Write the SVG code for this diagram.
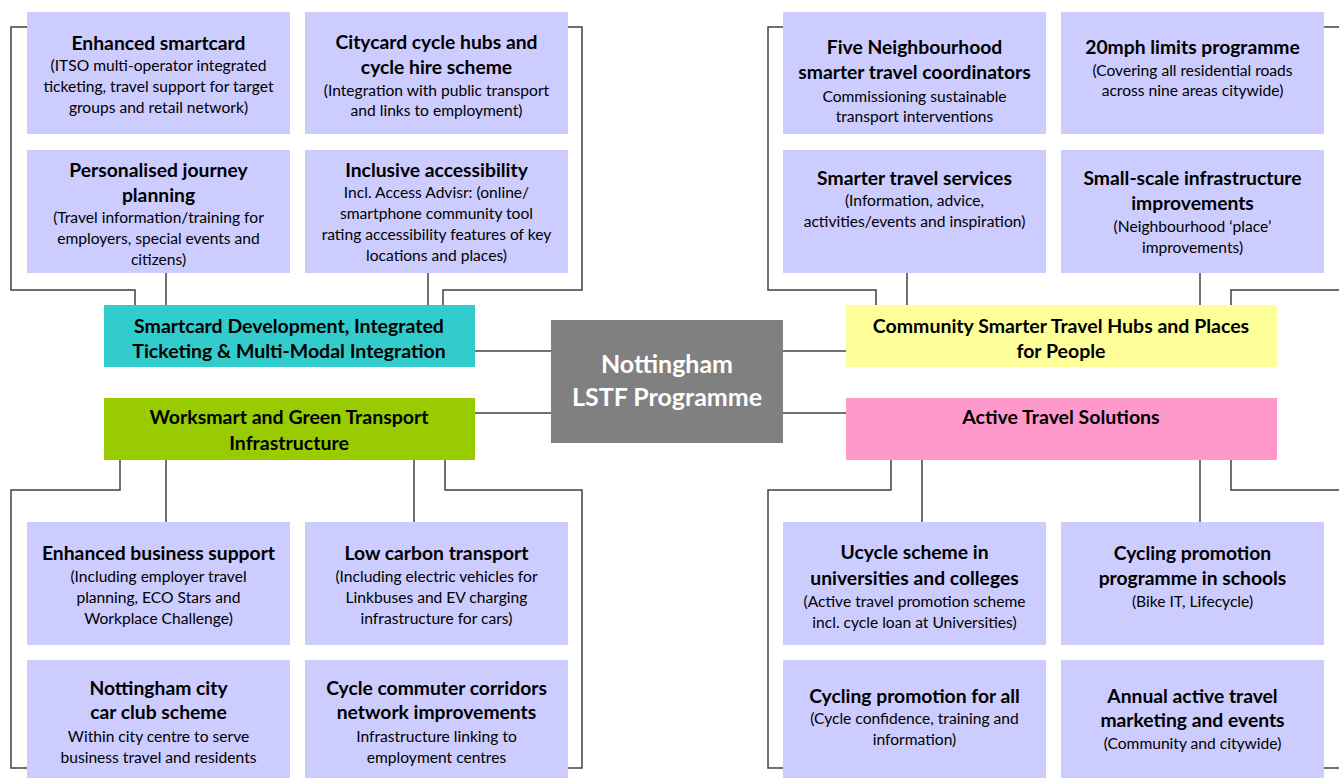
<svg xmlns="http://www.w3.org/2000/svg" width="1339" height="778" viewBox="0 0 1339 778">
<style>
.box{fill:#CCCCFF}
.t{font-family:Lato,"Open Sans","Liberation Sans",sans-serif;text-anchor:middle;fill:#000}
.h{font-size:19.3px;font-weight:bold}
.s{font-size:15.6px}
.cat{font-size:19.5px;font-weight:bold}
.c{fill:none;stroke:#404040;stroke-width:1.5}
</style>
<rect width="1339" height="778" fill="#fff"/>
<g id="connectors" class="c">
<path d="M27,27 H11 V290 H135 V305"/>
<path d="M166,273 V305"/>
<path d="M428,273 V305"/>
<path d="M568,27 H582 V290 H443 V305"/>
<path d="M475,351 H551"/>
<path d="M475,413 H551"/>
<path d="M120,460 V490 H11 V768 H27"/>
<path d="M166,460 V522"/>
<path d="M414,460 V522"/>
<path d="M445,460 V490 H582 V768 H568"/>
<path d="M783,27 H768 V290 H876 V305"/>
<path d="M907,273 V305"/>
<path d="M1200,273 V305"/>
<path d="M1339,290 H1231 V305"/>
<path d="M1324,27 H1339"/>
<path d="M783,351 H846"/>
<path d="M783,413 H846"/>
<path d="M891,460 V490 H768 V768 H783"/>
<path d="M922,460 V522"/>
<path d="M1200,460 V522"/>
<path d="M1339,490 H1231 V460"/>
<path d="M1324,768 H1339"/>
</g>
<g id="center">
<rect x="551" y="320" width="232" height="123" fill="#808080"/>
<text class="t" x="667" y="373" font-size="25" font-weight="bold" style="fill:#fff">Nottingham</text>
<text class="t" x="667" y="406" font-size="25" font-weight="bold" style="fill:#fff">LSTF Programme</text>
</g>
<g id="cat-smartcard">
<rect x="104" y="305" width="371" height="62" fill="#33CCCC"/>
<text class="t cat" x="289" y="333">Smartcard Development, Integrated</text>
<text class="t cat" x="289" y="358">Ticketing &amp; Multi-Modal Integration</text>
</g>
<g id="cat-worksmart">
<rect x="104" y="398" width="371" height="62" fill="#99CC00"/>
<text class="t cat" x="289" y="424">Worksmart and Green Transport</text>
<text class="t cat" x="289" y="450">Infrastructure</text>
</g>
<g id="cat-community">
<rect x="846" y="305" width="431" height="62" fill="#FFFF99"/>
<text class="t cat" x="1061" y="333">Community Smarter Travel Hubs and Places</text>
<text class="t cat" x="1061" y="358">for People</text>
</g>
<g id="cat-active">
<rect x="846" y="398" width="431" height="62" fill="#FF99CC"/>
<text class="t cat" x="1061" y="424">Active Travel Solutions</text>
</g>
<g id="n-enhanced-smartcard">
<rect class="box" x="27" y="12" width="263" height="122"/>
<text class="t h" x="158.5" y="50">Enhanced smartcard</text>
<text class="t s" x="158.5" y="71">(ITSO multi-operator integrated</text>
<text class="t s" x="158.5" y="92">ticketing, travel support for target</text>
<text class="t s" x="158.5" y="113">groups and retail network)</text>
</g>
<g id="n-citycard">
<rect class="box" x="305" y="12" width="263" height="122"/>
<text class="t h" x="436.5" y="49">Citycard cycle hubs and</text>
<text class="t h" x="436.5" y="74">cycle hire scheme</text>
<text class="t s" x="436.5" y="96">(Integration with public transport</text>
<text class="t s" x="436.5" y="116">and links to employment)</text>
</g>
<g id="n-personalised">
<rect class="box" x="27" y="150" width="263" height="123"/>
<text class="t h" x="158.5" y="177">Personalised journey</text>
<text class="t h" x="158.5" y="202">planning</text>
<text class="t s" x="158.5" y="223">(Travel information/training for</text>
<text class="t s" x="158.5" y="244">employers, special events and</text>
<text class="t s" x="158.5" y="265">citizens)</text>
</g>
<g id="n-inclusive">
<rect class="box" x="305" y="150" width="263" height="123"/>
<text class="t h" x="436.5" y="177">Inclusive accessibility</text>
<text class="t s" x="436.5" y="198">Incl. Access Advisr: (online/</text>
<text class="t s" x="436.5" y="219">smartphone community tool</text>
<text class="t s" x="436.5" y="240">rating accessibility features of key</text>
<text class="t s" x="436.5" y="261">locations and places)</text>
</g>
<g id="n-five-neighbourhood">
<rect class="box" x="783" y="12" width="263" height="122"/>
<text class="t h" x="914.5" y="54">Five Neighbourhood</text>
<text class="t h" x="914.5" y="79">smarter travel coordinators</text>
<text class="t s" x="914.5" y="102">Commissioning sustainable</text>
<text class="t s" x="914.5" y="122">transport interventions</text>
</g>
<g id="n-20mph">
<rect class="box" x="1061" y="12" width="263" height="122"/>
<text class="t h" x="1192.5" y="54">20mph limits programme</text>
<text class="t s" x="1192.5" y="76">(Covering all residential roads</text>
<text class="t s" x="1192.5" y="96">across nine areas citywide)</text>
</g>
<g id="n-smarter-services">
<rect class="box" x="783" y="150" width="263" height="123"/>
<text class="t h" x="914.5" y="185">Smarter travel services</text>
<text class="t s" x="914.5" y="206">(Information, advice,</text>
<text class="t s" x="914.5" y="227">activities/events and inspiration)</text>
</g>
<g id="n-small-scale">
<rect class="box" x="1061" y="150" width="263" height="123"/>
<text class="t h" x="1192.5" y="185">Small-scale infrastructure</text>
<text class="t h" x="1192.5" y="210">improvements</text>
<text class="t s" x="1192.5" y="232">(Neighbourhood ‘place’</text>
<text class="t s" x="1192.5" y="253">improvements)</text>
</g>
<g id="n-business">
<rect class="box" x="27" y="522" width="263" height="123"/>
<text class="t h" x="158.5" y="560">Enhanced business support</text>
<text class="t s" x="158.5" y="582">(Including employer travel</text>
<text class="t s" x="158.5" y="603">planning, ECO Stars and</text>
<text class="t s" x="158.5" y="624">Workplace Challenge)</text>
</g>
<g id="n-low-carbon">
<rect class="box" x="305" y="522" width="263" height="123"/>
<text class="t h" x="436.5" y="560">Low carbon transport</text>
<text class="t s" x="436.5" y="582">(Including electric vehicles for</text>
<text class="t s" x="436.5" y="603">Linkbuses and EV charging</text>
<text class="t s" x="436.5" y="624">infrastructure for cars)</text>
</g>
<g id="n-car-club">
<rect class="box" x="27" y="660" width="263" height="125"/>
<text class="t h" x="158.5" y="695">Nottingham city</text>
<text class="t h" x="158.5" y="719">car club scheme</text>
<text class="t s" x="158.5" y="742">Within city centre to serve</text>
<text class="t s" x="158.5" y="763">business travel and residents</text>
</g>
<g id="n-cycle-commuter">
<rect class="box" x="305" y="660" width="263" height="125"/>
<text class="t h" x="436.5" y="695">Cycle commuter corridors</text>
<text class="t h" x="436.5" y="719">network improvements</text>
<text class="t s" x="436.5" y="742">Infrastructure linking to</text>
<text class="t s" x="436.5" y="763">employment centres</text>
</g>
<g id="n-ucycle">
<rect class="box" x="783" y="522" width="263" height="123"/>
<text class="t h" x="914.5" y="559">Ucycle scheme in</text>
<text class="t h" x="914.5" y="585">universities and colleges</text>
<text class="t s" x="914.5" y="607">(Active travel promotion scheme</text>
<text class="t s" x="914.5" y="628">incl. cycle loan at Universities)</text>
</g>
<g id="n-cycling-schools">
<rect class="box" x="1061" y="522" width="263" height="123"/>
<text class="t h" x="1192.5" y="560">Cycling promotion</text>
<text class="t h" x="1192.5" y="585">programme in schools</text>
<text class="t s" x="1192.5" y="607">(Bike IT, Lifecycle)</text>
</g>
<g id="n-cycling-all">
<rect class="box" x="783" y="660" width="263" height="125"/>
<text class="t h" x="914.5" y="703">Cycling promotion for all</text>
<text class="t s" x="914.5" y="724">(Cycle confidence, training and</text>
<text class="t s" x="914.5" y="745">information)</text>
</g>
<g id="n-annual">
<rect class="box" x="1061" y="660" width="263" height="125"/>
<text class="t h" x="1192.5" y="703">Annual active travel</text>
<text class="t h" x="1192.5" y="727">marketing and events</text>
<text class="t s" x="1192.5" y="749">(Community and citywide)</text>
</g>
</svg>
